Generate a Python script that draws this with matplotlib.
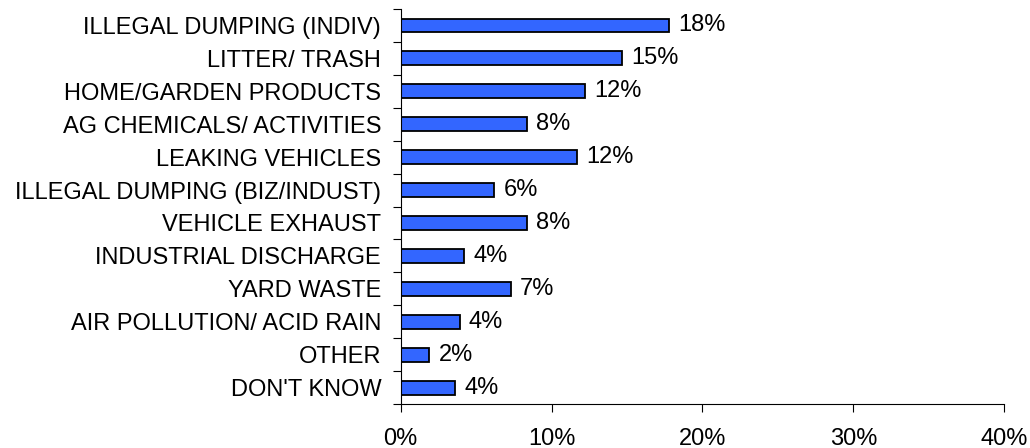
import matplotlib
matplotlib.use("Agg")
import matplotlib.pyplot as plt
import numpy as np

plt.rcParams["font.family"] = ["Liberation Sans", "DejaVu Sans"]

categories = [
    "ILLEGAL DUMPING (INDIV)",
    "LITTER/ TRASH",
    "HOME/GARDEN PRODUCTS",
    "AG CHEMICALS/ ACTIVITIES",
    "LEAKING VEHICLES",
    "ILLEGAL DUMPING (BIZ/INDUST)",
    "VEHICLE EXHAUST",
    "INDUSTRIAL DISCHARGE",
    "YARD WASTE",
    "AIR POLLUTION/ ACID RAIN",
    "OTHER",
    "DON'T KNOW",
]
values = [17.8, 14.7, 12.2, 8.4, 11.7, 6.2, 8.4, 4.2, 7.3, 3.9, 1.9, 3.6]
value_labels = ["18%", "15%", "12%", "8%", "12%", "6%", "8%", "4%", "7%", "4%", "2%", "4%"]
x_ticks = [0, 10, 20, 30, 40]

FS = 17

fig = plt.figure(figsize=(10.3, 4.48), dpi=100)
ax = fig.add_axes([0.389, 0.098, 0.586, 0.882])

y = np.arange(len(categories))
ax.barh(y, values, height=0.42, color="#3366ff", edgecolor="black", linewidth=1.3)
for yi, v, lab in zip(y, values, value_labels):
    ax.text(v + 0.6, yi, lab, va="center", ha="left", fontsize=FS)

ax.set_xlim(0, 40)
ax.set_ylim(len(categories) - 0.5, -0.5)
ax.set_xticks(x_ticks)
ax.set_xticklabels([f"{t}%" for t in x_ticks], fontsize=FS)
ax.set_yticks(y)
ax.set_yticklabels(categories, fontsize=FS)
ax.set_yticks(np.arange(-0.5, len(categories)), minor=True)
ax.tick_params(axis="y", which="major", length=0, pad=14)
ax.tick_params(axis="y", which="minor", length=6, width=0.8)
ax.tick_params(axis="x", length=6, width=0.8, pad=11)

for s in ["top", "right"]:
    ax.spines[s].set_visible(False)
for s in ["left", "bottom"]:
    ax.spines[s].set_linewidth(0.8)

fig.savefig("out.png", dpi=100)
